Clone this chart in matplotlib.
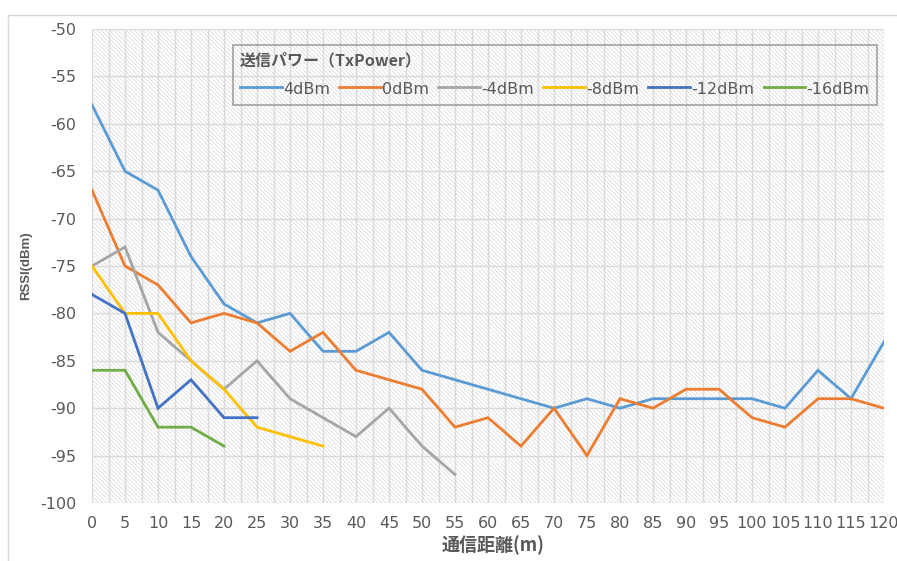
import numpy as np
import matplotlib.pyplot as plt
from matplotlib.patches import Rectangle

plt.rcParams['font.family'] = ['DejaVu Sans', 'Noto Sans CJK JP']
plt.rcParams['axes.unicode_minus'] = False
plt.rcParams['hatch.color'] = '#d9d9d9'
plt.rcParams['hatch.linewidth'] = 0.5

# distance (m) and RSSI (dBm) per TxPower
dist = [0, 5, 10, 15, 20, 25, 30, 35, 40, 45, 50, 55, 60, 65, 70, 75, 80, 85,
        90, 95, 100, 105, 110, 115, 120]
rssi_p4 = [-58, -65, -67, -74, -79, -81, -80, -84, -84, -82, -86, -87, -88, -89,
           -90, -89, -90, -89, -89, -89, -89, -90, -86, -89, -83]
rssi_0 = [-67, -75, -77, -81, -80, -81, -84, -82, -86, -87, -88, -92, -91, -94,
          -90, -95, -89, -90, -88, -88, -91, -92, -89, -89, -90]
rssi_m4 = [-75, -73, -82, -85, -88, -85, -89, -91, -93, -90, -94, -97]
rssi_m8 = [-75, -80, -80, -85, -88, -92, -93, -94]
rssi_m12 = [-78, -80, -90, -87, -91, -91]
rssi_m16 = [-86, -86, -92, -92, -94]

labels = ['4dBm', '0dBm', '-4dBm', '-8dBm', '-12dBm', '-16dBm']
colors = ['#5b9bd5', '#ed7d31', '#a5a5a5', '#ffc000', '#4472c4', '#70ad47']
series = [rssi_p4, rssi_0, rssi_m4, rssi_m8, rssi_m12, rssi_m16]

fig = plt.figure(figsize=(8.97, 5.61), dpi=100)
ax = fig.add_axes([92 / 897, 1 - 503 / 561, 792 / 897, 474 / 561])

# outer chart frame
fig.patches.append(Rectangle((8 / 897, -0.1), 1.2, 1 - 15 / 561 + 0.1,
                             transform=fig.transFigure, fill=False,
                             edgecolor='#d9d9d9', linewidth=1.0))

# hatched plot area
ax.add_patch(Rectangle((0, 0), 1, 1, transform=ax.transAxes, facecolor='white',
                       hatch='\\' * 8, edgecolor='#d9d9d9', linewidth=0, zorder=0))

for y, lab, col in zip(series, labels, colors):
    ax.plot(dist[:len(y)], y, color=col, linewidth=2.0, label=lab,
            solid_joinstyle='miter', zorder=3)

ax.set_xlim(0, 120)
ax.set_ylim(-100, -50)
ax.set_xticks(np.arange(0, 121, 5))
ax.set_xticks(np.arange(2.5, 120, 5), minor=True)
ax.set_yticks(np.arange(-100, -49, 5))
ax.grid(True, which='major', color='#dadada', linewidth=1.0, zorder=1)
ax.grid(True, which='minor', axis='x', color='#dadada', linewidth=1.0, zorder=1)
ax.set_axisbelow(True)
ax.tick_params(which='both', length=0, labelsize=11.5, labelcolor='#595959')
ax.tick_params(axis='y', pad=11)
ax.tick_params(axis='x', pad=9)
for s in ax.spines.values():
    s.set_visible(False)

ax.set_xlabel('通信距離(m)', fontsize=13, fontweight='bold', color='#595959',
              family=['Noto Sans CJK JP'])
ax.xaxis.set_label_coords(0.506, -0.068)
ax.set_ylabel('RSSI(dBm)', fontsize=9.5, fontweight='bold', color='#595959',
              family=['Liberation Sans'])
ax.yaxis.set_label_coords(-0.075, 0.5)

leg = ax.legend(loc='lower left', bbox_to_anchor=(0.178, 0.84, 0.813, 0.126),
                mode='expand', borderaxespad=0, ncol=6, frameon=True,
                fancybox=False, title='送信パワー（TxPower）', alignment='left',
                fontsize=11.5, handlelength=2.6, handletextpad=0.1,
                columnspacing=1.0, borderpad=0.45, labelspacing=0.75,
                handleheight=1.3)
leg.get_frame().set_edgecolor('#8c8c8c')
leg.get_frame().set_linewidth(1.2)
leg.get_frame().set_facecolor('none')
title = leg.get_title()
title.set_fontweight('bold')
title.set_fontsize(11.5)
title.set_color('#595959')
title.set_family(['Noto Sans CJK JP'])
for t in leg.get_texts():
    t.set_color('#595959')

fig.savefig('out.png', dpi=100)
